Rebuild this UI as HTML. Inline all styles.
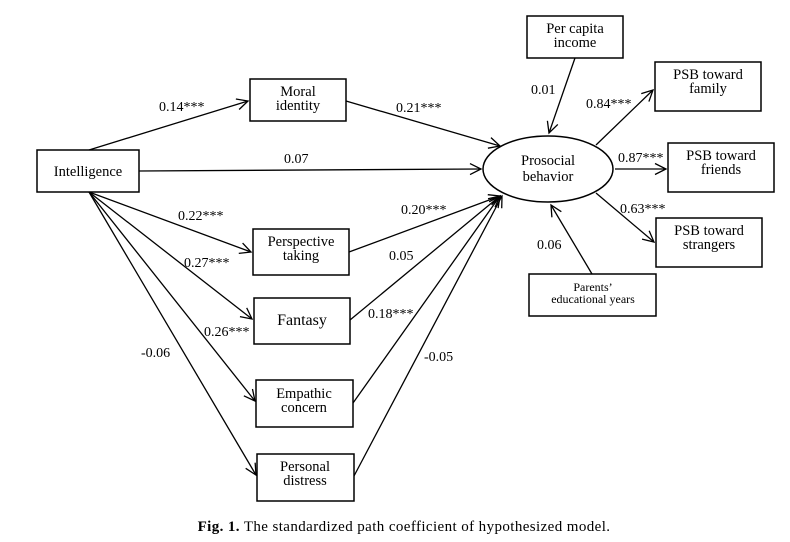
<!DOCTYPE html>
<html><head><meta charset="utf-8"><style>
html,body{margin:0;padding:0;background:#fff;}
svg{display:block;}
text{font-family:"Liberation Serif",serif;font-size:14px;fill:#000;}
.b{font-size:14.5px;}
</style></head><body>
<svg width="790" height="542" viewBox="0 0 790 542" xmlns="http://www.w3.org/2000/svg">
<defs>
<marker id="a" markerWidth="14" markerHeight="14" refX="12" refY="7" orient="auto" markerUnits="userSpaceOnUse">
<polyline points="1,1.5 12,7 1,12.5" fill="none" stroke="#000" stroke-width="1.3"/>
</marker>
</defs>
<g fill="none" stroke="#000" stroke-width="1.5">
<rect x="37" y="150" width="102" height="42"/>
<rect x="250" y="79" width="96" height="42"/>
<rect x="253" y="229" width="96" height="46"/>
<rect x="254" y="298" width="96" height="46"/>
<rect x="256" y="380" width="97" height="47"/>
<rect x="257" y="454" width="97" height="47"/>
<rect x="527" y="16" width="96" height="42"/>
<rect x="655" y="62" width="106" height="49"/>
<rect x="668" y="143" width="106" height="49"/>
<rect x="656" y="218" width="106" height="49"/>
<rect x="529" y="274" width="127" height="42"/>
<ellipse cx="548" cy="169" rx="65" ry="33"/>
</g>
<g stroke="#000" stroke-width="1.3" fill="none" marker-end="url(#a)">
<line x1="89" y1="150" x2="248" y2="101"/>
<line x1="139" y1="171" x2="481" y2="169"/>
<line x1="89" y1="192" x2="251" y2="252"/>
<line x1="89" y1="192" x2="252" y2="319"/>
<line x1="89" y1="192" x2="255" y2="401"/>
<line x1="89" y1="192" x2="256" y2="475"/>
<line x1="346" y1="101" x2="500" y2="146"/>
<line x1="349" y1="252" x2="500" y2="196"/>
<line x1="350" y1="320" x2="500" y2="196"/>
<line x1="353" y1="403" x2="500" y2="196"/>
<line x1="354" y1="476" x2="502" y2="196"/>
<line x1="575" y1="58" x2="549" y2="133"/>
<line x1="592" y1="274" x2="551" y2="205"/>
<line x1="596" y1="145" x2="653" y2="90"/>
<line x1="615" y1="169" x2="666" y2="169"/>
<line x1="596" y1="193" x2="654" y2="242"/>
</g>
<g text-anchor="middle" class="b">
<text class="b" x="88" y="176">Intelligence</text>
<text class="b" x="298" y="96">Moral</text><text class="b" x="298" y="110">identity</text>
<text class="b" x="301" y="246">Perspective</text><text class="b" x="301" y="260">taking</text>
<text x="302" y="325" style="font-size:16px">Fantasy</text>
<text class="b" x="304" y="398">Empathic</text><text class="b" x="304" y="412">concern</text>
<text class="b" x="305" y="471">Personal</text><text class="b" x="305" y="485">distress</text>
<text class="b" x="575" y="33">Per capita</text><text class="b" x="575" y="47">income</text>
<text class="b" x="708" y="79">PSB toward</text><text class="b" x="708" y="93">family</text>
<text class="b" x="721" y="160">PSB toward</text><text class="b" x="721" y="174">friends</text>
<text class="b" x="709" y="235">PSB toward</text><text class="b" x="709" y="249">strangers</text>
<text x="593" y="291" style="font-size:12px">Parents’</text><text x="593" y="303" style="font-size:12px">educational years</text>
<text class="b" x="548" y="165">Prosocial</text><text class="b" x="548" y="181">behavior</text>
</g>
<g>
<text x="159" y="111">0.14***</text>
<text x="396" y="112">0.21***</text>
<text x="284" y="163">0.07</text>
<text x="178" y="220">0.22***</text>
<text x="184" y="267">0.27***</text>
<text x="204" y="336">0.26***</text>
<text x="141" y="357">-0.06</text>
<text x="401" y="214">0.20***</text>
<text x="389" y="260">0.05</text>
<text x="368" y="318">0.18***</text>
<text x="424" y="361">-0.05</text>
<text x="531" y="94">0.01</text>
<text x="586" y="108">0.84***</text>
<text x="618" y="162">0.87***</text>
<text x="620" y="213">0.63***</text>
<text x="537" y="249">0.06</text>
</g>
<text x="404" y="531" text-anchor="middle" style="font-size:15px;letter-spacing:0.4px"><tspan font-weight="bold">Fig. 1.</tspan> The standardized path coefficient of hypothesized model.</text>
</svg>
</body></html>
